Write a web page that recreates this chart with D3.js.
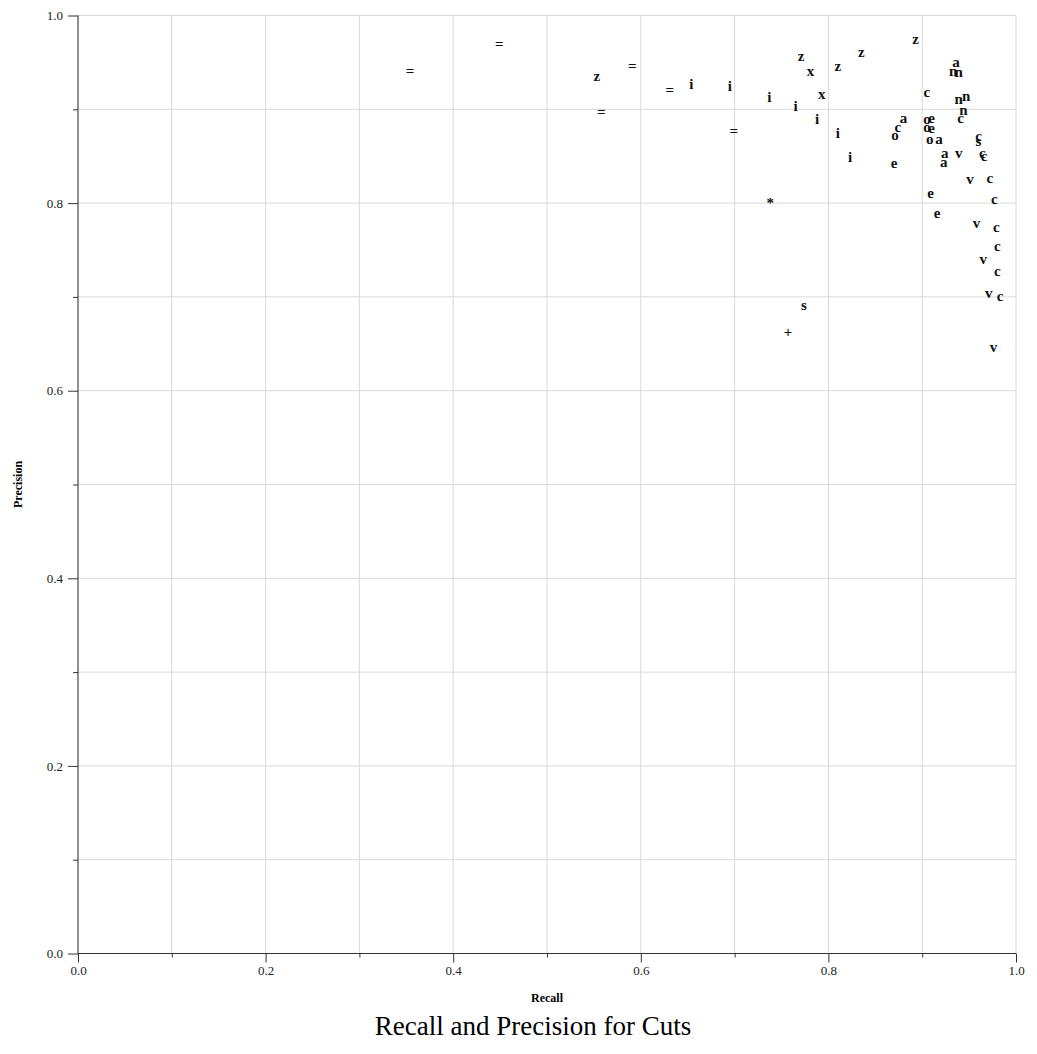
<!DOCTYPE html>
<html>
<head>
<meta charset="utf-8">
<script src="https://cdn.jsdelivr.net/npm/d3@7"></script>
<style>
  body { margin: 0; background: #fff; }
  text { font-family: "Liberation Serif", "DejaVu Serif", serif; }
</style>
</head>
<body>
<div id="chart"></div>
<script>
// one symbol per cut method, plotted at (recall, precision)
const symbols = ['=', '=', 'z', '=', '=', '=', 'i', 'i', 'i', '=', 'i', 'z', 'x', 'x', 'i', 'z', 'z', 'i', 'i',
  'z', 'a', 'n', 'n', 'c', 'n', 'n', 'n', 'c', 'a', 'c', 'o', 'e',
  'o', 'e', 'o', 'e', 'o', 'a', 'a', 'a', 'v', 'c', 's', 'c', 'c', 'v', 'c', 'e',
  'c', 'e', 'v', 'c', 'c', 'v', 'c', 'v', 'c', 'v', '*', 's', '+']
const recall = [0.354, 0.449, 0.553, 0.591, 0.558, 0.631, 0.654, 0.695, 0.737, 0.699, 0.765, 0.771, 0.781, 0.793, 0.788, 0.810, 0.835, 0.810, 0.823,
  0.893, 0.936, 0.933, 0.939, 0.905, 0.939, 0.947, 0.944, 0.941, 0.880, 0.874, 0.871, 0.870,
  0.905, 0.910, 0.905, 0.910, 0.908, 0.918, 0.924, 0.923, 0.939, 0.960, 0.960, 0.964, 0.966, 0.951, 0.972, 0.909,
  0.977, 0.916, 0.958, 0.979, 0.980, 0.965, 0.980, 0.971, 0.983, 0.976, 0.738, 0.774, 0.757]
const precision = [0.941, 0.970, 0.936, 0.946, 0.897, 0.921, 0.927, 0.925, 0.913, 0.877, 0.904, 0.957, 0.941, 0.916, 0.890, 0.946, 0.961, 0.875, 0.849,
  0.975, 0.950, 0.941, 0.940, 0.918, 0.911, 0.914, 0.899, 0.891, 0.891, 0.881, 0.873, 0.843,
  0.890, 0.891, 0.881, 0.880, 0.868, 0.868, 0.853, 0.844, 0.853, 0.872, 0.866, 0.853, 0.850, 0.826, 0.827, 0.811,
  0.804, 0.789, 0.779, 0.774, 0.754, 0.740, 0.728, 0.704, 0.701, 0.647, 0.800, 0.691, 0.663]
const tickValues = [0, 0.2, 0.4, 0.6, 0.8, 1.0]
const gridValues = d3.range(0, 1.0001, 0.1)

const width = 1037, height = 1054
const margin = { top: 15.5, right: 21, bottom: 100.5, left: 78 }

const svg = d3.select('#chart').append('svg')
  .attr('width', width)
  .attr('height', height)

const x = d3.scaleLinear().domain([0, 1]).range([margin.left, width - margin.right])
const y = d3.scaleLinear().domain([0, 1]).range([height - margin.bottom, margin.top])

const isMajor = d => tickValues.some(t => Math.abs(t - d) < 1e-6)

// grid
svg.append('g').selectAll('line.gx')
  .data(gridValues)
  .enter().append('line')
  .attr('x1', d => x(d)).attr('x2', d => x(d))
  .attr('y1', y(0)).attr('y2', y(1))
  .attr('stroke', '#d9d9d9')
svg.append('g').selectAll('line.gy')
  .data(gridValues)
  .enter().append('line')
  .attr('x1', x(0)).attr('x2', x(1))
  .attr('y1', d => y(d)).attr('y2', d => y(d))
  .attr('stroke', '#d9d9d9')

// axes
const fmt = d3.format('.1f')
const xAxis = svg.append('g')
  .attr('transform', `translate(0,${y(0)})`)
  .call(d3.axisBottom(x).tickValues(gridValues).tickSize(9).tickPadding(3)
    .tickFormat(d => isMajor(d) ? fmt(d) : ''))
const yAxis = svg.append('g')
  .attr('transform', `translate(${x(0)},0)`)
  .call(d3.axisLeft(y).tickValues(gridValues).tickSize(10).tickPadding(5)
    .tickFormat(d => isMajor(d) ? fmt(d) : ''))

for (const ax of [xAxis, yAxis]) {
  ax.selectAll('text').style('font-size', '13px').attr('fill', '#222')
  ax.selectAll('line').attr('stroke', '#333')
}
// minor (unlabelled) ticks are shorter
xAxis.selectAll('.tick').filter(d => !isMajor(d)).select('line').attr('y2', 4)
yAxis.selectAll('.tick').filter(d => !isMajor(d)).select('line').attr('x2', -5)
xAxis.select('.domain').attr('d', `M${x(0)},0H${x(1)}`).attr('stroke', '#333')
yAxis.select('.domain').attr('d', `M0,${y(0)}V${y(1)}`).attr('stroke', '#333')

// points
svg.append('g').selectAll('text')
  .data(symbols)
  .enter().append('text')
  .attr('x', (d, i) => x(recall[i]))
  .attr('y', (d, i) => y(precision[i]))
  .attr('text-anchor', 'middle')
  .attr('dominant-baseline', 'central')
  .style('font-size', '15px')
  .style('font-weight', 'bold')
  .attr('fill', '#111')
  .text(d => d)

// labels
svg.append('text')
  .attr('x', (x(0) + x(1)) / 2)
  .attr('y', 1002)
  .attr('text-anchor', 'middle')
  .style('font-size', '12px')
  .style('font-weight', 'bold')
  .text('Recall')

svg.append('text')
  .attr('transform', `translate(22,${(y(0) + y(1)) / 2}) rotate(-90)`)
  .attr('text-anchor', 'middle')
  .style('font-size', '12px')
  .style('font-weight', 'bold')
  .text('Precision')

svg.append('text')
  .attr('x', (x(0) + x(1)) / 2 - 14)
  .attr('y', 1035)
  .attr('text-anchor', 'middle')
  .style('font-size', '27px')
  .text('Recall and Precision for Cuts')
</script>
</body>
</html>
